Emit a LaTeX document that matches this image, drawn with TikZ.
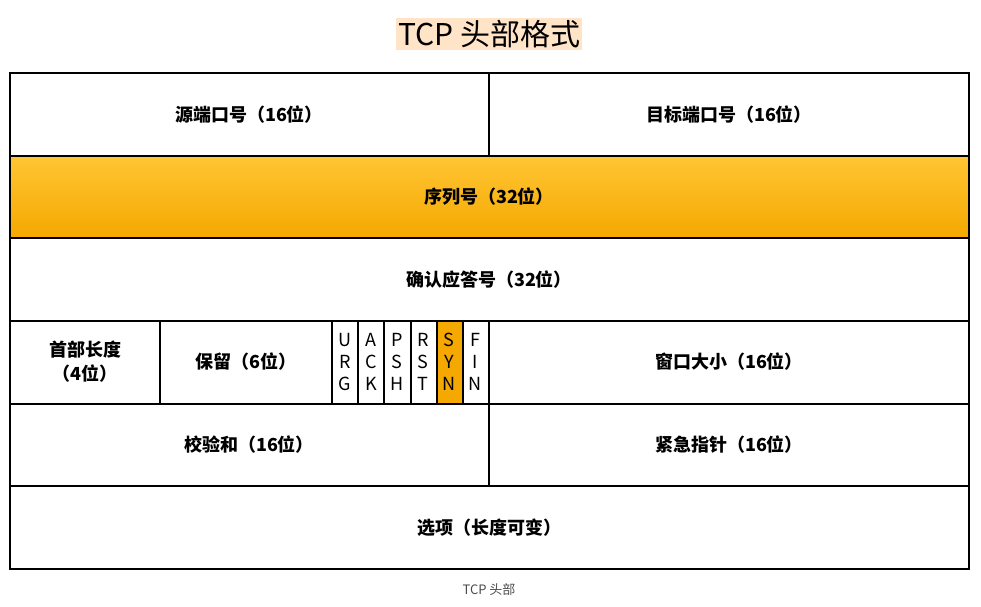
\documentclass[tikz,border=0pt]{standalone}
\usepackage{fontspec}
\setmainfont{Noto Sans CJK SC}
\begin{document}
\begin{tikzpicture}[x=1pt,y=-1pt,
  cell/.style={draw=black,line width=1.6pt},
  lab/.style={font=\fontsize{18}{24}\selectfont\bfseries,align=center},
  flag/.style={font=\fontsize{18}{22}\selectfont,align=center,inner sep=0pt}]
\useasboundingbox (0,0) rectangle (981,606);
\definecolor{org}{HTML}{F5A800}
\definecolor{orgt}{HTML}{FFC533}
\fill[top color=orgt,bottom color=org] (10,156) rectangle (969,238);
\fill[org] (437,321) rectangle (463,404);
\node[fill={rgb,255:red,255;green,228;blue,200},inner sep=2pt,font=\fontsize{30}{34}\selectfont] (title) at (489,34) {TCP 头部格式};
\draw[cell] (10,73) rectangle (969,569);
\foreach \y in {156,238,321,404,486} \draw[cell] (10,\y) -- (969,\y);
\draw[cell] (489,73) -- (489,156);
\draw[cell] (489,321) -- (489,486);
\draw[cell] (160,321) -- (160,404);
\foreach \x in {332,358,384,411,437,463} \draw[line width=1.2pt] (\x,321) -- (\x,404);
\node[lab] (sp) at (249,115) {源端口号（16位）};
\node[lab] (dp) at (729,115) {目标端口号（16位）};
\node[lab] (seq) at (489,197) {序列号（32位）};
\node[lab] (ack) at (489,280) {确认应答号（32位）};
\node[lab] (hl) at (85,362) {首部长度\\（4位）};
\node[lab] (rs) at (246,362) {保留（6位）};
\node[lab] (win) at (729,362) {窗口大小（16位）};
\node[lab] (cs) at (249,445) {校验和（16位）};
\node[lab] (up) at (729,445) {紧急指针（16位）};
\node[lab] (op) at (489,528) {选项（长度可变）};
\foreach \t [count=\i] in {U\\R\\G,A\\C\\K,P\\S\\H,R\\S\\T,S\\Y\\N,F\\I\\N}
  \node[flag] (f\i) at ({332+26*\i-13},362) {\t};
\node[font=\fontsize{13}{15}\selectfont,text=black!70] (cap) at (489,590) {TCP 头部};
\end{tikzpicture}
\end{document}
